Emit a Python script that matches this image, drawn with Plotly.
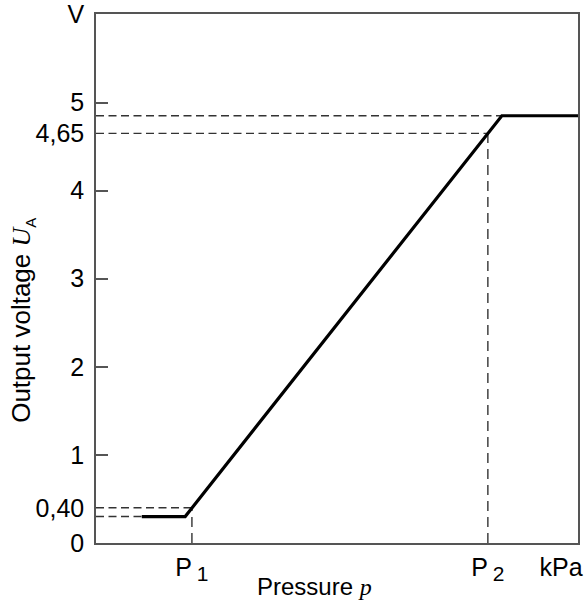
import plotly.graph_objects as go

# Data (pressure in arbitrary units 0..100, voltage in V)
p_curve = [9.5, 18.5, 84.2, 100]
u_curve = [0.30, 0.30, 4.85, 4.85]

P1 = 19.9
P2 = 81.3
U_P1 = 0.40
U_P2 = 4.65
U_low = 0.30
U_high = 4.85
p_low_start = 9.5
p_high_start = 84.2
kpa_pos = 96.5

x_tickvals = [P1, P2, kpa_pos]
x_ticktext = ["P<sub> <span style=\"font-size:21px\">1</span></sub>",
              "P<sub> <span style=\"font-size:21px\">2</span></sub>", "kPa"]
y_labelvals = [0, U_P1, 1, 2, 3, 4, U_P2, 5, 6]
y_labeltext = ["0", "0,40", "1", "2", "3", "4", "4,65", "5", "V"]
y_tickmarks = [1, 2, 3, 4, 5]

FONT = "Liberation Sans, Arial, sans-serif"
HDASH = "8px,4.5px"
VDASH = "10px,6px"
DCOL = "#333333"

fig = go.Figure()

# dashed guide lines (horizontal)
hguides = [
    ([0, P1], [U_P1, U_P1]),
    ([0, p_low_start], [U_low, U_low]),
    ([0, P2], [U_P2, U_P2]),
    ([0, p_high_start], [U_high, U_high]),
]
for gx, gy in hguides:
    fig.add_trace(go.Scatter(x=gx, y=gy, mode="lines",
                             line=dict(color=DCOL, width=1.4, dash=HDASH),
                             hoverinfo="skip", showlegend=False))
# dashed guide lines (vertical)
vguides = [
    ([P1, P1], [0, U_P1]),
    ([P2, P2], [0, U_P2]),
]
for gx, gy in vguides:
    fig.add_trace(go.Scatter(x=gx, y=gy, mode="lines",
                             line=dict(color=DCOL, width=1.4, dash=VDASH),
                             hoverinfo="skip", showlegend=False))

# characteristic curve
fig.add_trace(go.Scatter(x=p_curve, y=u_curve, mode="lines",
                         line=dict(color="black", width=3.2),
                         showlegend=False, yaxis="y2"))

fig.update_layout(
    width=587, height=605,
    margin=dict(l=96, r=9, t=14, b=62, autoexpand=False),
    paper_bgcolor="white", plot_bgcolor="white",
    font=dict(family=FONT, size=25, color="black"),
    xaxis=dict(range=[0, 100], tickmode="array", tickvals=x_tickvals,
               ticktext=x_ticktext, ticks="", showgrid=False, zeroline=False,
               showline=True, linecolor="#555555", linewidth=1.5, mirror=True,
               ticklabelstandoff=1, tickfont=dict(size=25), automargin=False),
    yaxis=dict(range=[0, 6.005], tickmode="array", tickvals=y_labelvals,
               ticktext=y_labeltext, ticks="", showgrid=False, zeroline=False,
               showline=True, linecolor="#555555", linewidth=1.5, mirror=True,
               ticklabelstandoff=5, ticklabeloverflow="allow",
               tickfont=dict(size=25), automargin=False),
    yaxis2=dict(range=[0, 6.005], overlaying="y", side="left", tickmode="array",
                tickvals=y_tickmarks, ticks="inside", ticklen=12,
                tickcolor="#555555", tickwidth=1.5, showticklabels=False,
                showgrid=False, zeroline=False, showline=False, automargin=False),
    annotations=[
        dict(text="Output voltage <span style=\"font-family:'Liberation Serif',serif\"><i>U</i></span><sub><span style=\"font-size:15px\">A</span></sub>",
             xref="paper", yref="paper", x=-0.1535, y=0.42, textangle=-90,
             showarrow=False, font=dict(family=FONT, size=26),
             xanchor="center", yanchor="middle"),
        dict(text="Pressure <span style=\"font-family:'Liberation Serif',serif\"><i>p</i></span>",
             xref="paper", yref="paper", x=0.454, y=-0.083,
             showarrow=False, font=dict(family=FONT, size=24),
             xanchor="center", yanchor="middle"),
    ],
)

fig.write_html("out.html",
               config={"displayModeBar": False},
               post_script="document.body.style.margin='0';document.body.style.overflow='hidden';")
